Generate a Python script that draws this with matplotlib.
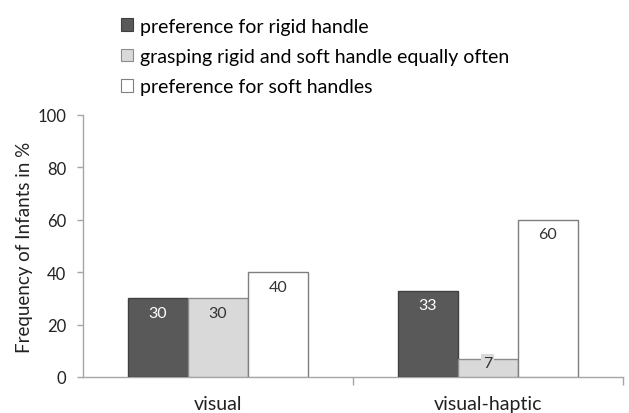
import matplotlib
matplotlib.use("Agg")
import matplotlib.pyplot as plt
import numpy as np
from matplotlib.patches import Patch

conditions = ["visual", "visual-haptic"]
series_names = [
    "preference for rigid handle",
    "grasping rigid and soft handle equally often",
    "preference for soft handles",
]
rigid = [30, 33]
equal = [30, 7]
soft = [40, 60]
yticks = [0, 20, 40, 60, 80, 100]

plt.rcParams["font.family"] = ["Lato", "DejaVu Sans"]

fig = plt.figure(figsize=(6.29, 4.14), dpi=100)
ax = fig.add_axes([0.132, 0.087, 0.858, 0.633])

face_colors = ["#595959", "#d9d9d9", "#ffffff"]
edge_colors = ["#404040", "#8c8c8c", "#7f7f7f"]
label_colors = ["white", "#333333", "#333333"]

x = np.arange(len(conditions))
width = 0.222
offsets = [-width, 0, width]
for vals, off, fc, ec, lc in zip([rigid, equal, soft], offsets, face_colors, edge_colors, label_colors):
    bars = ax.bar(x + off, vals, width, color=fc, edgecolor=ec, linewidth=1.0, zorder=3)
    for b, v in zip(bars, vals):
        if v < 15:
            ax.text(b.get_x() + b.get_width() / 2, v - 1.8, str(v), ha="center", va="center",
                    fontsize=11.5, color=lc, zorder=4,
                    bbox=dict(boxstyle="square,pad=0.12", fc=fc, ec="none"))
        else:
            ax.text(b.get_x() + b.get_width() / 2, v - 5.5, str(v), ha="center", va="center",
                    fontsize=11.5, color=lc, zorder=4)

ax.set_xlim(-0.5, 1.5)
ax.set_ylim(0, 100)
ax.set_yticks(yticks)
ax.set_yticklabels([str(t) for t in yticks], fontsize=12, color="#222222")
ax.set_xticks(x)
ax.set_xticklabels(conditions, fontsize=14, color="#222222")
ax.tick_params(axis="x", length=0, pad=13)
ax.tick_params(axis="y", length=4, color="#a6a6a6", width=1, pad=8)
# boundary ticks between categories on the x axis
ax.set_xticks([0.5, 1.5], minor=True)
ax.tick_params(axis="x", which="minor", length=6, color="#a6a6a6", width=1)

for s in ["top", "right"]:
    ax.spines[s].set_visible(False)
for s in ["left", "bottom"]:
    ax.spines[s].set_color("#a6a6a6")
    ax.spines[s].set_linewidth(1)

ax.set_ylabel("Frequency of Infants in %", fontsize=13.5, color="#222222", labelpad=3)

handles = [Patch(facecolor=fc, edgecolor=ec, linewidth=0.8) for fc, ec in zip(face_colors, edge_colors)]
fig.legend(handles, series_names, loc="upper left", bbox_to_anchor=(0.193, 0.955),
           frameon=False, fontsize=14, handlelength=0.62, handleheight=0.62,
           handletextpad=0.36, labelspacing=0.68, borderaxespad=0, borderpad=0)

fig.savefig("out.png", dpi=100)
